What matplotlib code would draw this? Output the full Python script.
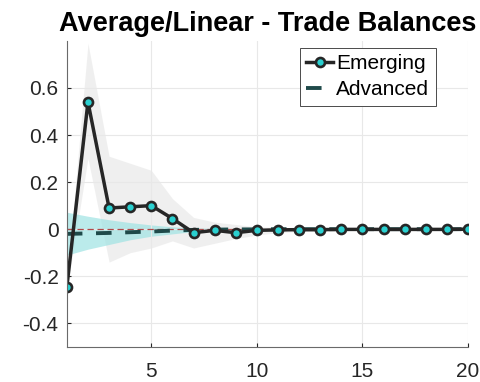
import matplotlib.pyplot as plt
import numpy as np

plt.rcParams['font.family'] = ['Liberation Sans', 'DejaVu Sans']

# Impulse responses by horizon
horizon = np.arange(1, 21)
emerging = [-0.245, 0.54, 0.09, 0.095, 0.10, 0.045, -0.015, -0.005, -0.015, -0.005,
            -0.003, -0.002, -0.002, -0.001, -0.001, -0.001, -0.001, -0.001, -0.001, 0.0]
emerging_lo = [-0.26, 0.30, -0.14, -0.10, -0.08, -0.05, -0.08, -0.06, -0.04, -0.025,
               -0.015, -0.01, -0.008, -0.006, -0.005, -0.004, -0.003, -0.003, -0.002, -0.002]
emerging_hi = [-0.23, 0.79, 0.31, 0.28, 0.25, 0.13, 0.05, 0.03, 0.02, 0.01,
               0.008, 0.006, 0.005, 0.004, 0.003, 0.003, 0.002, 0.002, 0.002, 0.002]
advanced = [-0.02, -0.018, -0.016, -0.013, -0.01, -0.006, -0.003, -0.002, -0.001, -0.001,
            0.0, 0.0, 0.0, 0.0, 0.0, 0.0, 0.0, 0.0, 0.0, 0.0]
advanced_lo = [-0.11, -0.085, -0.065, -0.045, -0.03, -0.02, -0.01, -0.006, -0.004, -0.003,
               -0.002, -0.001, -0.001, -0.001, -0.001, 0.0, 0.0, 0.0, 0.0, 0.0]
advanced_hi = [0.072, 0.055, 0.04, 0.028, 0.018, 0.01, 0.005, 0.004, 0.003, 0.002,
               0.001, 0.001, 0.001, 0.001, 0.0, 0.0, 0.0, 0.0, 0.0, 0.0]

fig = plt.figure(figsize=(4.81, 3.82), dpi=100)
ax = fig.add_axes([0.139, 0.092, 0.834, 0.801])

ax.fill_between(horizon, emerging_lo, emerging_hi, color='#ececec', alpha=0.8, lw=0)
ax.fill_between(horizon, advanced_lo, advanced_hi, color='#9fe3e3', alpha=0.7, lw=0)
ax.axhline(0, color='#b04848', lw=0.9, ls=(0, (5, 3)))
ax.plot(horizon, advanced, color='#1f4a4a', lw=2.8, ls=(0, (4, 3.5)), label='Advanced')
ax.plot(horizon, emerging, color='#262626', lw=2.5, marker='o', ms=6.5,
        mfc='#2ad0d0', mec='#262626', mew=1.9, label='Emerging')

ax.set_xlim(1, 20)
ax.set_ylim(-0.5, 0.8)
ax.set_xticks([5, 10, 15, 20])
ax.set_yticks([-0.4, -0.2, 0, 0.2, 0.4, 0.6])
ax.set_yticklabels(['-0.4', '-0.2', '0', '0.2', '0.4', '0.6'])
ax.tick_params(labelsize=15, colors='#262626', length=3, direction='in', pad=6)
ax.tick_params(axis='x', pad=11)
ax.grid(True, color='#e8e8e8', lw=0.8)
for s in ['top', 'right']:
    ax.spines[s].set_visible(False)
for s in ['left', 'bottom']:
    ax.spines[s].set_color('#6a6a6a')
    ax.spines[s].set_linewidth(0.8)

handles, labels = ax.get_legend_handles_labels()
leg = ax.legend(handles[::-1], labels[::-1], loc='upper right', fontsize=15,
                handlelength=1.3, handletextpad=0.15, borderpad=0.3,
                labelspacing=0.35, fancybox=False, framealpha=1,
                borderaxespad=0, bbox_to_anchor=(0.919, 0.977))
leg.get_frame().set_edgecolor('#4a4a4a')
leg.get_frame().set_linewidth(0.7)

ax.set_title('Average/Linear - Trade Balances', fontsize=19.5, fontweight='bold', pad=7)

fig.savefig('out.png', dpi=100)
